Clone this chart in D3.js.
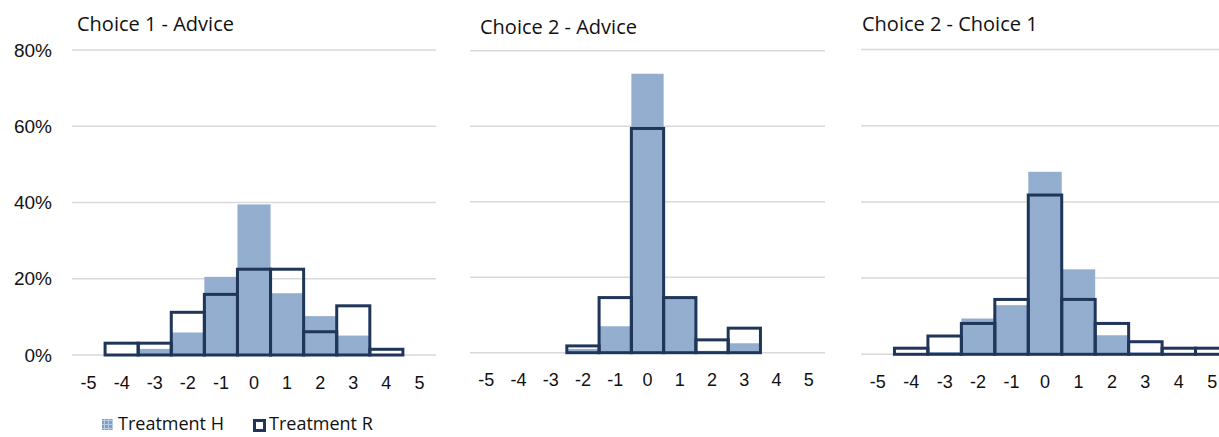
<!DOCTYPE html>
<html>
<head>
<meta charset="utf-8">
<script src="https://cdn.jsdelivr.net/npm/d3@7/dist/d3.min.js"></script>
<style>
  html, body { margin: 0; padding: 0; background: #fff; }
  svg { display: block; }
  .ttl, .leg { font-family: "Open Sans", "Noto Sans", sans-serif; fill: #111; }
  .tick text { font-family: "Liberation Sans", Arial, sans-serif; fill: #111; }
</style>
</head>
<body>
<svg id="chart" width="1219" height="437"></svg>
<script>
// Difference bins (-5 … 5) and share of subjects per bin, in percent
const categories = [-5, -4, -3, -2, -1, 0, 1, 2, 3, 4, 5];
const panelTitles = ["Choice 1 - Advice", "Choice 2 - Advice", "Choice 2 - Choice 1"];

const treatmentH_c1Advice = [0, 0, 1.6, 5.9, 20.5, 39.5, 16.2, 10.2, 5.1, 0, 0];
const treatmentR_c1Advice = [0, 3.1, 3.1, 11.2, 15.9, 22.5, 22.5, 6.1, 12.9, 1.5, 0];

const treatmentH_c2Advice = [0, 0, 0, 1.0, 7.0, 73.9, 14.6, 0.5, 2.5, 0, 0];
const treatmentR_c2Advice = [0, 0, 0, 1.8, 14.6, 59.4, 14.6, 3.4, 6.5, 0, 0];

const treatmentH_c2c1 = [0, 0, 0.6, 9.4, 12.9, 47.9, 22.3, 5.0, 0.5, 0, 0];
const treatmentR_c2c1 = [0, 1.6, 4.8, 8.1, 14.4, 41.8, 14.4, 8.1, 3.3, 1.6, 1.6];

const yTicks = [0, 20, 40, 60, 80];
const legendLabels = ["Treatment H", "Treatment R"];

const seriesH = [treatmentH_c1Advice, treatmentH_c2Advice, treatmentH_c2c1];
const seriesR = [treatmentR_c1Advice, treatmentR_c2Advice, treatmentR_c2c1];

// Layout of the three small multiples
const layout = [
  { x0: 72,  x1: 436,  yBase: 355,   yTop: 50,   titleX: 77,  titleY: 31 },
  { x0: 470, x1: 825,  yBase: 352.7, yTop: 50.7, titleX: 480, titleY: 34 },
  { x0: 861, x1: 1229, yBase: 354.3, yTop: 49.5, titleX: 862, titleY: 31 }
];

const colH = "#8eaacd";
const colR = "#1f3559";
const gridCol = "#d9d9d9";

const svg = d3.select("#chart");
const defs = svg.append("defs");

// Fine texture used for Treatment H fills
const pat = defs.append("pattern").attr("id", "texH")
  .attr("patternUnits", "userSpaceOnUse").attr("width", 2).attr("height", 2);
pat.append("rect").attr("width", 2).attr("height", 2).attr("fill", colH);
pat.append("rect").attr("width", 1).attr("height", 1).attr("fill", "#96b1d2");
pat.append("rect").attr("x", 1).attr("y", 1).attr("width", 1).attr("height", 1).attr("fill", "#96b1d2");

// Coarser grid texture for the legend swatch
const patL = defs.append("pattern").attr("id", "texLeg")
  .attr("patternUnits", "userSpaceOnUse").attr("width", 4).attr("height", 4);
patL.append("rect").attr("width", 4).attr("height", 4).attr("fill", "#7f9fc6");
patL.append("rect").attr("width", 4).attr("height", 1).attr("fill", "#b9cbe2");
patL.append("rect").attr("width", 1).attr("height", 4).attr("fill", "#b9cbe2");

layout.forEach((L, i) => {
  const x = d3.scaleBand().domain(categories).range([L.x0, L.x1]).paddingInner(0).paddingOuter(0);
  const y = d3.scaleLinear().domain([0, 80]).range([L.yBase, L.yTop]);
  const g = svg.append("g");

  // horizontal gridlines
  g.selectAll("line.grid").data(yTicks).join("line")
    .attr("class", "grid")
    .attr("x1", L.x0).attr("x2", Math.min(L.x1, 1219))
    .attr("y1", d => y(d)).attr("y2", d => y(d))
    .attr("stroke", gridCol).attr("stroke-width", 1.5);

  // y axis labels on the first panel only
  if (i === 0) {
    const ya = d3.axisLeft(y).tickValues(yTicks).tickSize(0).tickPadding(20)
      .tickFormat(d => d + "%");
    const gy = svg.append("g").attr("transform", `translate(${L.x0},0)`).call(ya);
    gy.select(".domain").remove();
    gy.selectAll("text").attr("font-size", 19);
  }

  // x axis category labels
  const xa = d3.axisBottom(x).tickSize(0).tickPadding(21).tickFormat(d => d);
  const gx = svg.append("g").attr("transform", `translate(0,${L.yBase})`).call(xa);
  gx.select(".domain").remove();
  gx.selectAll("text").attr("font-size", 18);

  // Treatment H: filled bars
  const hData = categories.map((c, k) => ({ c, v: seriesH[i][k] })).filter(d => d.v > 0);
  g.selectAll("rect.h").data(hData).join("rect")
    .attr("class", "h")
    .attr("x", d => x(d.c)).attr("width", x.bandwidth())
    .attr("y", d => y(d.v)).attr("height", d => y(0) - y(d.v))
    .attr("fill", "url(#texH)");

  // Treatment R: outlined bars on top
  const rData = categories.map((c, k) => ({ c, v: seriesR[i][k] })).filter(d => d.v > 0);
  g.selectAll("rect.r").data(rData).join("rect")
    .attr("class", "r")
    .attr("x", d => x(d.c)).attr("width", x.bandwidth())
    .attr("y", d => y(d.v)).attr("height", d => y(0) - y(d.v))
    .attr("fill", "none").attr("stroke", colR).attr("stroke-width", 3);

  // panel title
  svg.append("text").attr("class", "ttl")
    .attr("x", L.titleX).attr("y", L.titleY)
    .attr("font-size", 20)
    .text(panelTitles[i]);
});

// Legend
const leg = svg.append("g").attr("class", "legend");
leg.append("rect").attr("x", 102).attr("y", 419).attr("width", 11).attr("height", 11)
  .attr("fill", "url(#texLeg)");
leg.append("text").attr("class", "leg").attr("x", 118).attr("y", 430).attr("font-size", 18)
  .text(legendLabels[0]);
leg.append("rect").attr("x", 254.5).attr("y", 420.5).attr("width", 10).attr("height", 10)
  .attr("fill", "#fff").attr("stroke", colR).attr("stroke-width", 3);
leg.append("text").attr("class", "leg").attr("x", 269).attr("y", 430).attr("font-size", 18)
  .text(legendLabels[1]);
</script>
</body>
</html>
